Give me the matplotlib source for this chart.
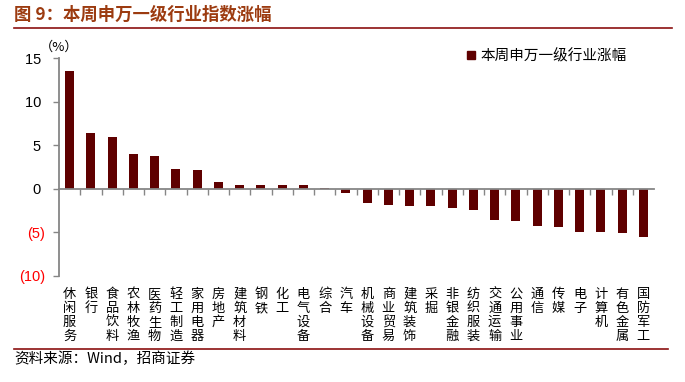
"""本周申万一级行业指数涨幅 柱状图。"""

import matplotlib.pyplot as plt
import matplotlib.transforms as mtransforms
import numpy as np
from matplotlib.lines import Line2D

plt.rcParams["font.family"] = ["Noto Sans CJK SC", "DejaVu Sans"]

# 数据
industries = [
    "休闲服务", "银行", "食品饮料", "农林牧渔", "医药生物", "轻工制造", "家用电器",
    "房地产", "建筑材料", "钢铁", "化工", "电气设备", "综合", "汽车", "机械设备",
    "商业贸易", "建筑装饰", "采掘", "非银金融", "纺织服装", "交通运输", "公用事业",
    "通信", "传媒", "电子", "计算机", "有色金属", "国防军工",
]
changes = [
    13.5, 6.4, 5.95, 4.0, 3.78, 2.29, 2.17,
    0.8, 0.46, 0.46, 0.46, 0.46, 0.12, -0.44, -1.58,
    -1.9, -2.02, -2.02, -2.25, -2.48, -3.62, -3.74,
    -4.31, -4.42, -5.0, -5.0, -5.11, -5.57,
]
yticks = [-10, -5, 0, 5, 10, 15]
ytick_labels = ["(10)", "(5)", "0 ", "5 ", "10 ", "15 "]
series_name = "本周申万一级行业涨幅"

BAR_COLOR = "#5F0000"
TITLE_COLOR = "#9C3B10"
LINE_COLOR = "#8B1010"
AXIS_COLOR = "#868686"

W, H = 685, 382
fig = plt.figure(figsize=(W / 100, H / 100), dpi=100)
ax = fig.add_axes([59 / W, 1 - 276 / H, (654 - 59) / W, (276 - 58) / H])

x = np.arange(len(industries))
ax.bar(x, changes, width=0.42, color=BAR_COLOR, zorder=2)
ax.set_xlim(-0.5, len(industries) - 0.5)
ax.set_ylim(-10, 15)

# 坐标轴
for side in ["top", "right"]:
    ax.spines[side].set_visible(False)
ax.spines["bottom"].set_position(("data", 0))
for side in ["left", "bottom"]:
    ax.spines[side].set_color(AXIS_COLOR)
    ax.spines[side].set_linewidth(1.3)

ax.set_yticks(yticks)
ax.set_yticklabels(ytick_labels, fontfamily="Liberation Sans", fontsize=10.5)
for lab, v in zip(ax.get_yticklabels(), yticks):
    if v < 0:
        lab.set_color("#FF0000")
ax.tick_params(axis="y", direction="out", length=4, width=1, color=AXIS_COLOR, pad=6)

ax.set_xticks(x[:-1] + 0.5)
ax.tick_params(axis="x", direction="out", length=4, width=1, color=AXIS_COLOR,
               labelbottom=False)

# 纵向行业标签
trans = mtransforms.offset_copy(
    mtransforms.blended_transform_factory(ax.transData, ax.transAxes),
    fig=fig, y=-12, units="dots",
)
for xi, name in zip(x, industries):
    ax.text(xi, 0, "\n".join(name), transform=trans, ha="center", va="top",
            fontsize=9.5, linespacing=1.1, color="black")

pct_trans = mtransforms.offset_copy(ax.transAxes, fig=fig, y=11, units="dots")
ax.text(0, 1.0, "（%）", transform=pct_trans, ha="center", va="center",
        fontsize=9.5)

# 图例
handle = Line2D([], [], marker="s", linestyle="", color=BAR_COLOR, markersize=5.5)
ax.legend([handle], [series_name], loc="center left",
          bbox_to_anchor=(467 / W, 1 - 56 / H), bbox_transform=fig.transFigure,
          frameon=False, fontsize=10.5, handlelength=0.6, handletextpad=0.3,
          borderpad=0, borderaxespad=0)

# 标题与来源
fig.text(14 / W, 1 - 15 / H, "图 9：本周申万一级行业指数涨幅", fontsize=12.5,
         fontweight="bold", color=TITLE_COLOR, va="center", ha="left")
fig.add_artist(Line2D([14 / W, 672 / W], [1 - 28 / H] * 2, color=LINE_COLOR,
                      lw=1.2, transform=fig.transFigure))
fig.add_artist(Line2D([14 / W, 668 / W], [1 - 349 / H] * 2, color=LINE_COLOR,
                      lw=1.2, transform=fig.transFigure))
fig.text(14 / W, 1 - 359 / H, "资料来源：Wind，招商证券", fontsize=10.5,
         va="center", ha="left")

fig.savefig("out.png", dpi=100)
plt.close(fig)
